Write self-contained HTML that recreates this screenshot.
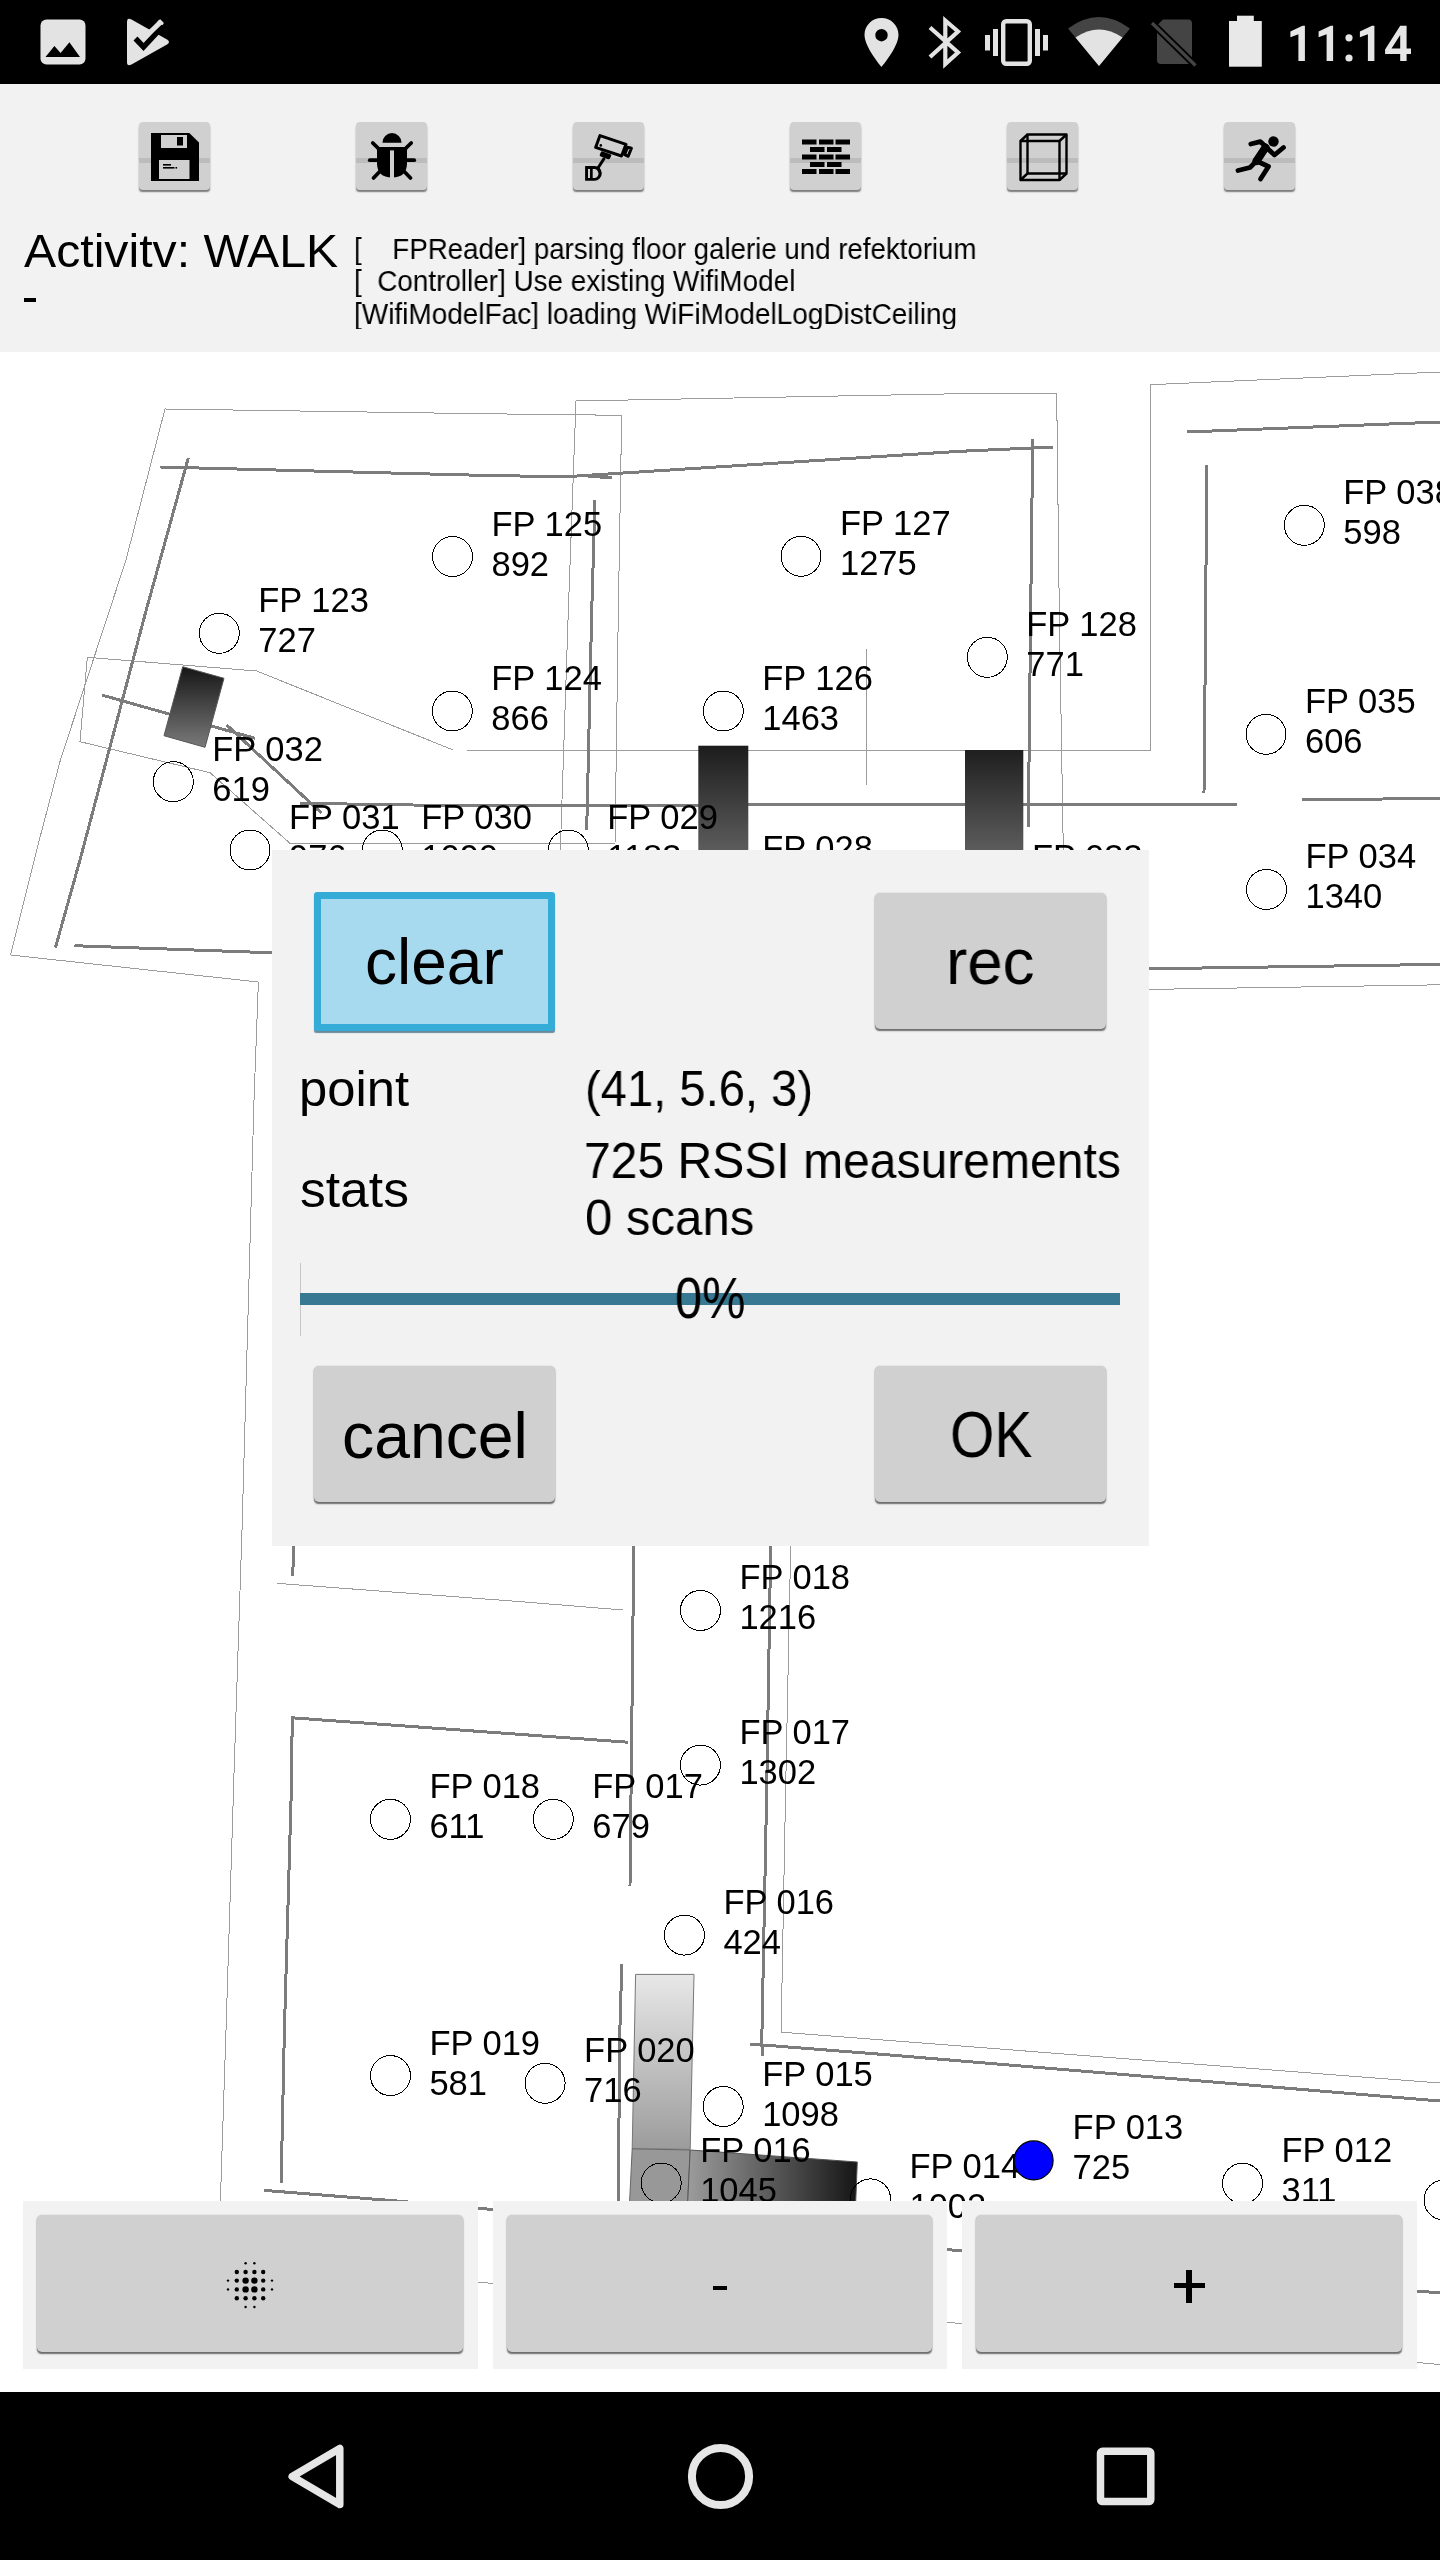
<!DOCTYPE html>
<html><head><meta charset="utf-8">
<style>
html,body{margin:0;padding:0;}
body{width:1440px;height:2560px;position:relative;overflow:hidden;background:#fff;font-family:"Liberation Sans",sans-serif;color:#000;}
.abs{position:absolute;}
#status{left:0;top:0;width:1440px;height:84px;background:#000;}
#top{left:0;top:84px;width:1440px;height:268px;background:#f2f2f2;}
.tb{position:absolute;top:122px;width:71px;height:67.5px;border-radius:4px;background:#d0d0d0;box-shadow:0 2.5px 1.5px -0.5px #7a7a7a;overflow:hidden;}
.tb .band{position:absolute;left:0;right:0;top:35.5px;height:5px;background:#bcbcbc;}
.tb svg{position:absolute;left:0;top:0;}
.t{position:absolute;white-space:pre;line-height:1;transform-origin:0 0;will-change:transform;}
#dlg{left:272px;top:850px;width:877px;height:696px;background:#f2f2f2;}
.btn{position:absolute;background:#d0d0d0;border-radius:5px;box-shadow:0 2px 1.5px -0.5px #6c6c6c, 0 0 1.5px rgba(0,0,0,0.22);}
#nav{left:0;top:2392px;width:1440px;height:168px;background:#000;}
.bbox{position:absolute;top:2201px;height:168px;background:#f2f2f2;}
</style></head><body>

<svg class="abs" style="left:0;top:0;will-change:transform" width="1440" height="2560">
<defs><linearGradient id="gd1" x1="0" y1="0" x2="0" y2="1"><stop offset="0" stop-color="#161616"/><stop offset="1" stop-color="#7a7a7a"/></linearGradient><linearGradient id="gd2" gradientUnits="userSpaceOnUse" x1="0" y1="745" x2="0" y2="900"><stop offset="0" stop-color="#1c1c1c"/><stop offset="1" stop-color="#7a7a7a"/></linearGradient><linearGradient id="gd4" gradientUnits="userSpaceOnUse" x1="0" y1="1974" x2="0" y2="2149"><stop offset="0" stop-color="#e8e8e8"/><stop offset="1" stop-color="#9c9c9c"/></linearGradient><linearGradient id="gd6" gradientUnits="userSpaceOnUse" x1="690" y1="0" x2="857" y2="0"><stop offset="0" stop-color="#9a9a9a"/><stop offset="1" stop-color="#161616"/></linearGradient></defs>
<polyline points="258.4,982.0 10.5,955.0 39.3,840.0 60.4,760.0 126.0,560.0 165.0,409.0 480.0,413.7 621.7,415.3 618.3,612.0 615.0,843.3 290.0,843.3 210.0,772.7 80.0,741.7 87.3,657.3 256.7,671.0 453.3,750.0 1150.0,750.7 1150.0,384.7 1440.0,372.0" fill="none" stroke="#9c9c9c" stroke-width="1" shape-rendering="crispEdges"/>
<polyline points="258.4,982.0 254.0,1100.0 242.0,1530.0 233.8,1780.0 226.0,2030.0 220.4,2201.0 219.0,2260.0 1440.0,2364.5" fill="none" stroke="#9c9c9c" stroke-width="1" shape-rendering="crispEdges"/>
<polyline points="560.0,860.0 568.3,612.0 576.0,401.0 960.0,393.7 1056.7,393.7 1059.3,612.0 1063.3,850.0" fill="none" stroke="#9c9c9c" stroke-width="1" shape-rendering="crispEdges"/>
<polyline points="866.0,649.3 866.0,785.0" fill="none" stroke="#9c9c9c" stroke-width="1" shape-rendering="crispEdges"/>
<polyline points="276.7,1583.3 520.0,1601.6 622.7,1610.0" fill="none" stroke="#9c9c9c" stroke-width="1" shape-rendering="crispEdges"/>
<polyline points="790.7,1546.0 785.6,1790.0 781.1,2032.2 840.0,2036.7 1440.0,2083.0" fill="none" stroke="#9c9c9c" stroke-width="1" shape-rendering="crispEdges"/>
<polyline points="1149.0,989.4 1440.0,984.8" fill="none" stroke="#9c9c9c" stroke-width="1" shape-rendering="crispEdges"/>
<polyline points="160.0,467.0 480.0,475.3 576.7,477.0" fill="none" stroke="#7c7c7c" stroke-width="3" shape-rendering="crispEdges"/>
<polyline points="576.7,476.0 960.0,451.3 1053.3,447.0" fill="none" stroke="#7c7c7c" stroke-width="3" shape-rendering="crispEdges"/>
<polyline points="580.0,475.3 611.7,478.0" fill="none" stroke="#7c7c7c" stroke-width="3" shape-rendering="crispEdges"/>
<polyline points="188.3,458.0 145.7,612.0 80.0,860.0 55.4,947.7" fill="none" stroke="#7c7c7c" stroke-width="3" shape-rendering="crispEdges"/>
<polyline points="74.5,945.7 271.9,952.8" fill="none" stroke="#7c7c7c" stroke-width="3" shape-rendering="crispEdges"/>
<polyline points="595.0,500.0 591.7,612.0 586.7,830.0" fill="none" stroke="#7c7c7c" stroke-width="3" shape-rendering="crispEdges"/>
<polyline points="101.7,695.0 255.0,738.3" fill="none" stroke="#7c7c7c" stroke-width="3" shape-rendering="crispEdges"/>
<polyline points="226.7,725.0 321.7,813.3" fill="none" stroke="#7c7c7c" stroke-width="3" shape-rendering="crispEdges"/>
<polyline points="300.0,803.3 480.0,806.0 960.0,804.0 1236.7,804.0" fill="none" stroke="#7c7c7c" stroke-width="3" shape-rendering="crispEdges"/>
<polyline points="1301.7,800.0 1440.0,798.3" fill="none" stroke="#7c7c7c" stroke-width="3" shape-rendering="crispEdges"/>
<polyline points="1032.7,438.7 1030.7,612.0 1028.3,826.7" fill="none" stroke="#7c7c7c" stroke-width="3" shape-rendering="crispEdges"/>
<polyline points="1186.7,432.0 1440.0,422.0" fill="none" stroke="#7c7c7c" stroke-width="3" shape-rendering="crispEdges"/>
<polyline points="1206.7,465.3 1205.7,612.0 1204.0,792.7" fill="none" stroke="#7c7c7c" stroke-width="3" shape-rendering="crispEdges"/>
<polyline points="1149.0,968.8 1440.0,964.4" fill="none" stroke="#7c7c7c" stroke-width="3" shape-rendering="crispEdges"/>
<polyline points="293.3,1546.0 292.9,1575.6" fill="none" stroke="#7c7c7c" stroke-width="3" shape-rendering="crispEdges"/>
<polyline points="627.8,1742.2 520.0,1734.4 292.2,1717.8 291.6,1780.0 284.4,2030.0 281.1,2183.3" fill="none" stroke="#7c7c7c" stroke-width="3" shape-rendering="crispEdges"/>
<polyline points="633.8,1546.0 630.0,1885.6" fill="none" stroke="#7c7c7c" stroke-width="3" shape-rendering="crispEdges"/>
<polyline points="770.7,1546.0 766.7,1790.0 761.8,2040.0 762.3,2056.0" fill="none" stroke="#7c7c7c" stroke-width="3" shape-rendering="crispEdges"/>
<polyline points="621.8,1964.4 619.6,2040.0 618.4,2201.0" fill="none" stroke="#7c7c7c" stroke-width="3" shape-rendering="crispEdges"/>
<polyline points="750.0,2044.0 880.0,2054.2 1440.0,2101.0" fill="none" stroke="#7c7c7c" stroke-width="3" shape-rendering="crispEdges"/>
<polyline points="264.4,2190.4 393.3,2200.7 1440.0,2293.0" fill="none" stroke="#7c7c7c" stroke-width="3" shape-rendering="crispEdges"/>
<polygon points="182.7,666.7 224,678.3 205,747.3 164,735.7" fill="url(#gd1)" stroke="#555" stroke-width="1"/>
<rect x="698.3" y="745.7" width="50" height="160" fill="url(#gd2)"/>
<rect x="965" y="750" width="58.3" height="160" fill="url(#gd2)"/>
<polygon points="635.6,1974.4 694,1974.4 690.2,2149.3 632.2,2148.8" fill="url(#gd4)" stroke="#777" stroke-width="1"/>
<polygon points="632.2,2148.8 690.2,2150 686.3,2230 628.2,2230" fill="#989898" stroke="#666" stroke-width="1"/>
<polygon points="690.2,2150 857.3,2162 854.6,2230 686.3,2230" fill="url(#gd6)" stroke="#555" stroke-width="1"/>
<circle cx="452.5" cy="556.5" r="20" fill="none" stroke="#000" stroke-width="1" shape-rendering="crispEdges"/>
<circle cx="801" cy="556.3" r="20" fill="none" stroke="#000" stroke-width="1" shape-rendering="crispEdges"/>
<circle cx="1304.3" cy="525.3" r="20" fill="none" stroke="#000" stroke-width="1" shape-rendering="crispEdges"/>
<circle cx="219.3" cy="633.3" r="20" fill="none" stroke="#000" stroke-width="1" shape-rendering="crispEdges"/>
<circle cx="987.3" cy="657.3" r="20" fill="none" stroke="#000" stroke-width="1" shape-rendering="crispEdges"/>
<circle cx="452.3" cy="711" r="20" fill="none" stroke="#000" stroke-width="1" shape-rendering="crispEdges"/>
<circle cx="723.3" cy="711" r="20" fill="none" stroke="#000" stroke-width="1" shape-rendering="crispEdges"/>
<circle cx="1266" cy="734.3" r="20" fill="none" stroke="#000" stroke-width="1" shape-rendering="crispEdges"/>
<circle cx="173.3" cy="781.7" r="20" fill="none" stroke="#000" stroke-width="1" shape-rendering="crispEdges"/>
<circle cx="250" cy="850" r="20" fill="none" stroke="#000" stroke-width="1" shape-rendering="crispEdges"/>
<circle cx="382.3" cy="850" r="20" fill="none" stroke="#000" stroke-width="1" shape-rendering="crispEdges"/>
<circle cx="568.3" cy="850" r="20" fill="none" stroke="#000" stroke-width="1" shape-rendering="crispEdges"/>
<circle cx="723.3" cy="881" r="20" fill="none" stroke="#000" stroke-width="1" shape-rendering="crispEdges"/>
<circle cx="993" cy="890" r="20" fill="none" stroke="#000" stroke-width="1" shape-rendering="crispEdges"/>
<circle cx="1266.5" cy="889.4" r="20" fill="none" stroke="#000" stroke-width="1" shape-rendering="crispEdges"/>
<circle cx="700.4" cy="1610.4" r="20" fill="none" stroke="#000" stroke-width="1" shape-rendering="crispEdges"/>
<circle cx="700.4" cy="1765.1" r="20" fill="none" stroke="#000" stroke-width="1" shape-rendering="crispEdges"/>
<circle cx="390.4" cy="1819.3" r="20" fill="none" stroke="#000" stroke-width="1" shape-rendering="crispEdges"/>
<circle cx="553.3" cy="1819.3" r="20" fill="none" stroke="#000" stroke-width="1" shape-rendering="crispEdges"/>
<circle cx="684.4" cy="1935.1" r="20" fill="none" stroke="#000" stroke-width="1" shape-rendering="crispEdges"/>
<circle cx="390.4" cy="2075.6" r="20" fill="none" stroke="#000" stroke-width="1" shape-rendering="crispEdges"/>
<circle cx="545.1" cy="2083.3" r="20" fill="none" stroke="#000" stroke-width="1" shape-rendering="crispEdges"/>
<circle cx="723.2" cy="2106.5" r="20" fill="none" stroke="#000" stroke-width="1" shape-rendering="crispEdges"/>
<circle cx="661.2" cy="2183" r="20" fill="none" stroke="#000" stroke-width="1" shape-rendering="crispEdges"/>
<circle cx="870.5" cy="2198.9" r="20" fill="none" stroke="#000" stroke-width="1" shape-rendering="crispEdges"/>
<circle cx="1242.5" cy="2183.3" r="20" fill="none" stroke="#000" stroke-width="1" shape-rendering="crispEdges"/>
<circle cx="1444" cy="2200" r="20" fill="none" stroke="#000" stroke-width="1" shape-rendering="crispEdges"/>
<g font-family="Liberation Sans" font-size="34.5" fill="#000"><text x="491.5" y="535.5">FP 125</text><text x="491.5" y="575.5">892</text><text x="840.0" y="535.3">FP 127</text><text x="840.0" y="575.3">1275</text><text x="1343.3" y="504.3">FP 038</text><text x="1343.3" y="544.3">598</text><text x="258.3" y="612.3">FP 123</text><text x="258.3" y="652.3">727</text><text x="1026.3" y="636.3">FP 128</text><text x="1026.3" y="676.3">771</text><text x="491.3" y="690.0">FP 124</text><text x="491.3" y="730.0">866</text><text x="762.3" y="690.0">FP 126</text><text x="762.3" y="730.0">1463</text><text x="1305.0" y="713.3">FP 035</text><text x="1305.0" y="753.3">606</text><text x="212.3" y="760.7">FP 032</text><text x="212.3" y="800.7">619</text><text x="289.0" y="829.0">FP 031</text><text x="289.0" y="869.0">976</text><text x="421.3" y="829.0">FP 030</text><text x="421.3" y="869.0">1090</text><text x="607.3" y="829.0">FP 029</text><text x="607.3" y="869.0">1183</text><text x="762.3" y="860.0">FP 028</text><text x="762.3" y="900.0">1320</text><text x="1032.0" y="869.0">FP 033</text><text x="1032.0" y="909.0">980</text><text x="1305.5" y="868.4">FP 034</text><text x="1305.5" y="908.4">1340</text><text x="739.4" y="1589.4">FP 018</text><text x="739.4" y="1629.4">1216</text><text x="739.4" y="1744.1">FP 017</text><text x="739.4" y="1784.1">1302</text><text x="429.4" y="1798.3">FP 018</text><text x="429.4" y="1838.3">611</text><text x="592.3" y="1798.3">FP 017</text><text x="592.3" y="1838.3">679</text><text x="723.4" y="1914.1">FP 016</text><text x="723.4" y="1954.1">424</text><text x="429.4" y="2054.6">FP 019</text><text x="429.4" y="2094.6">581</text><text x="584.1" y="2062.3">FP 020</text><text x="584.1" y="2102.3">716</text><text x="762.2" y="2085.5">FP 015</text><text x="762.2" y="2125.5">1098</text><text x="700.2" y="2162.0">FP 016</text><text x="700.2" y="2202.0">1045</text><text x="909.5" y="2177.9">FP 014</text><text x="909.5" y="2217.9">1002</text><text x="1281.5" y="2162.3">FP 012</text><text x="1281.5" y="2202.3">311</text><text x="1072.6" y="2139.4">FP 013</text><text x="1072.6" y="2179.4">725</text></g>
<circle cx="1033.6" cy="2160.4" r="19.5" fill="#0000ff" stroke="#000" stroke-width="1.2"/>
</svg>

<!-- status bar -->
<div id="status" class="abs">
<svg class="abs" style="left:0;top:0" width="1440" height="84">
 <!-- gallery icon -->
 <rect x="40.5" y="19.5" width="45" height="45" rx="6" fill="#e3e3e3"/>
 <polygon points="45.5,57 54.4,46 60.6,53 69.4,42.2 80,57" fill="#000"/>
 <!-- play store check -->
 <path d="M127,22 Q127,17 131.5,19.5 L167,39.5 Q171,42 167,44.5 L131.5,64.5 Q127,67 127,62 Z" fill="#e3e3e3"/>
 <polyline points="144,42 161.5,21.5" fill="none" stroke="#e3e3e3" stroke-width="6"/>
 <polyline points="135.5,38.5 143.5,47 163,26" fill="none" stroke="#000" stroke-width="5.5"/>
 <polyline points="146,36 162,21" fill="none" stroke="#e3e3e3" stroke-width="5"/>
 <!-- location -->
 <path d="M881.5,18 C872,18 864.5,25.5 864.5,35 C864.5,47 881.5,67 881.5,67 C881.5,67 898.5,47 898.5,35 C898.5,25.5 891,18 881.5,18 Z M881.5,29 A6.2,6.2 0 1 0 881.5,41.4 A6.2,6.2 0 1 0 881.5,29 Z" fill="#e3e3e3" fill-rule="evenodd"/>
 <!-- bluetooth -->
 <polyline points="930,27.5 958,52.5 945.3,64 945.3,20.5 958,31.5 930,57" fill="none" stroke="#e3e3e3" stroke-width="4.2" stroke-linejoin="miter" stroke-miterlimit="3"/>
 <!-- vibrate -->
 <rect x="1003.2" y="21.2" width="26.6" height="42.6" rx="3" fill="none" stroke="#e3e3e3" stroke-width="4.4"/>
 <rect x="985" y="35" width="5" height="15.5" fill="#e3e3e3"/>
 <rect x="993" y="29" width="5" height="27" fill="#e3e3e3"/>
 <rect x="1035" y="29" width="5" height="27" fill="#e3e3e3"/>
 <rect x="1043" y="35" width="5" height="15.5" fill="#e3e3e3"/>
 <!-- wifi -->
 <path d="M1068,28.5 Q1099,5.5 1130,28.5 L1099,66 Z" fill="#444"/>
 <path d="M1075.5,37.5 Q1099,21.5 1122.5,37.5 L1099,66 Z" fill="#e3e3e3"/>
 <!-- no sim -->
 <path d="M1163,19.4 L1188,19.4 Q1192,19.4 1192,23.4 L1192,60 Q1192,64 1188,64 L1161,64 Q1157,64 1157,60 L1157,25.4 Z" fill="#444"/>
 <line x1="1152" y1="23" x2="1195.5" y2="65.5" stroke="#000" stroke-width="7"/>
 <line x1="1152" y1="23" x2="1195.5" y2="65.5" stroke="#444" stroke-width="3.2"/>
 <!-- battery -->
 <rect x="1237" y="15.7" width="16.8" height="6" fill="#e8e8e8"/>
 <rect x="1229" y="21" width="32.8" height="45.7" fill="#e8e8e8"/>
</svg>
<svg class="abs" style="left:0;top:0" width="1440" height="84"><g fill="#e6e6e6">
 <polygon points="1290.4,31.4 1302.5,25.8 1304.9,25.8 1304.9,61 1298.4,61 1298.4,34.2 1290.4,37.3"/>
 <polygon points="1318.6,31.4 1330.7,25.8 1333.1,25.8 1333.1,61 1326.6,61 1326.6,34.2 1318.6,37.3"/>
 <circle cx="1349" cy="37.8" r="3.6"/><circle cx="1349" cy="58" r="3.6"/>
 <polygon points="1359.9,31.4 1372,25.8 1374.4,25.8 1374.4,61 1367.9,61 1367.9,34.2 1359.9,37.3"/>
 <path d="M1400.2,25.8 L1406.6,25.8 L1406.6,48.6 L1411,48.6 L1411,53.9 L1406.6,53.9 L1406.6,61 L1400.2,61 L1400.2,53.9 L1385.1,53.9 L1385.1,49.5 Z M1400.2,35 L1391.5,48.6 L1400.2,48.6 Z" fill-rule="evenodd"/>
</g></svg>
</div>

<!-- top panel -->
<div id="top" class="abs"></div>
<div class="tb" style="left:139px"><div class="band"></div>
 <svg width="71" height="70">
  <path d="M12,11 L58,11 L60,13 L60,59 L12,59 Z" fill="#000"/>
  <path d="M50.3,11 L60,20.5 L60,11 Z" fill="#d0d0d0"/>
  <rect x="22" y="13" width="26" height="13" fill="#d0d0d0"/>
  <rect x="38" y="15" width="6" height="8.5" fill="#000"/>
  <rect x="20" y="38" width="30.5" height="19" fill="#d0d0d0"/>
  <rect x="24" y="42" width="8" height="1.6" fill="#000"/>
  <rect x="24" y="45" width="11.5" height="1.6" fill="#000"/>
  <rect x="36.5" y="45" width="1.6" height="1.6" fill="#000"/>
 </svg></div>
<div class="tb" style="left:356px"><div class="band"></div>
 <svg width="71" height="70">
  <path d="M26.4,20.7 A9.6,9.6 0 0 1 45.6,20.7 Z" fill="#000"/>
  <path d="M23.2,25 L48.8,25 L51,27.6 L51,41 Q51,55.5 36,55.5 Q21,55.5 21,41 L21,27.6 Z" fill="#000"/>
  <rect x="34" y="28.4" width="4" height="28" fill="#d0d0d0"/>
  <g stroke="#000" stroke-width="3.8" stroke-linecap="round">
   <line x1="16.8" y1="21" x2="23" y2="27"/><line x1="55.2" y1="21" x2="49" y2="27"/>
   <line x1="13.8" y1="38.2" x2="21" y2="38.2"/><line x1="58.2" y1="38.2" x2="51" y2="38.2"/>
   <line x1="17.5" y1="56" x2="24" y2="49.3"/><line x1="54.5" y1="56" x2="48" y2="49.3"/>
  </g>
 </svg></div>
<div class="tb" style="left:573px"><div class="band"></div>
 <svg width="71" height="70">
  <g fill="none" stroke="#000" stroke-width="3" stroke-linejoin="round">
   <polygon points="27,13.6 53,22.4 48.5,34 22.6,25.4"/>
   <polygon points="54.5,25.2 58.4,26.3 55.2,34.3 51.6,32.6"/>
   <polygon points="29.2,30.8 36.8,33.6 35.6,35.8 28.2,33"/>
   <line x1="31.4" y1="36" x2="25" y2="46"/>
  </g>
  <path d="M12.1,43.9 L21.5,43.9 A7.3,7.4 0 0 1 21.5,58.7 L12.1,58.7 Z M15,47.1 L17,47.1 L17,56 L15,56 Z M19.7,47.1 L21.3,47.1 A4.2,4.45 0 0 1 21.3,56 L19.7,56 Z" fill="#000" fill-rule="evenodd"/>
  <circle cx="27.8" cy="23.4" r="1.3" fill="#000"/>
 </svg></div>
<div class="tb" style="left:790px"><div class="band"></div>
 <svg width="71" height="70">
  <g fill="#000">
   <rect x="12" y="17.5" width="14.5" height="5"/><rect x="29" y="17.5" width="14.5" height="5"/><rect x="45.5" y="17.5" width="14.5" height="5"/>
   <rect x="20" y="25" width="14.5" height="5"/><rect x="37" y="25" width="14.5" height="5"/>
   <rect x="12" y="32.5" width="14.5" height="5"/><rect x="29" y="32.5" width="14.5" height="5"/><rect x="45.5" y="32.5" width="14.5" height="5"/>
   <rect x="20" y="40" width="14.5" height="5"/><rect x="37" y="40" width="14.5" height="5"/>
   <rect x="12" y="47" width="14.5" height="5"/><rect x="29" y="47" width="14.5" height="5"/><rect x="45.5" y="47" width="14.5" height="5"/>
  </g>
 </svg></div>
<div class="tb" style="left:1007px"><div class="band"></div>
 <svg width="71" height="70">
  <g fill="none" stroke="#000" stroke-width="2.4" stroke-linejoin="round">
   <rect x="13.5" y="19" width="39" height="39"/>
   <rect x="20.5" y="12.5" width="39" height="39"/>
   <line x1="13.5" y1="19" x2="20.5" y2="12.5"/><line x1="52.5" y1="19" x2="59.5" y2="12.5"/>
   <line x1="13.5" y1="58" x2="20.5" y2="51.5"/><line x1="52.5" y1="58" x2="59.5" y2="51.5"/>
  </g>
 </svg></div>
<div class="tb" style="left:1224px"><div class="band"></div>
 <svg width="71" height="70">
  <circle cx="49.5" cy="19.5" r="5.2" fill="#000"/>
  <g fill="none" stroke="#000" stroke-linecap="round" stroke-linejoin="round">
   <polyline points="26.8,22 36.3,19.6 43,26 50.5,33 59.5,25.5" stroke-width="4.8"/>
   <polyline points="41.5,25.5 32.5,39" stroke-width="8"/>
   <polyline points="32.5,39 26,45.5 14,48.5" stroke-width="4.8"/>
   <polyline points="32.5,39 44.5,44.5 36.5,57" stroke-width="4.8"/>
  </g>
 </svg></div>

<div class="t" id="act" style="left:23.75px;top:228px;font-size:46.4px;transform:scaleX(1.0389);">Activitv: WALK</div>
<div class="abs" style="left:24px;top:298px;width:12px;height:4px;background:#000;"></div>
<div class="abs" style="left:0;top:0;width:1440px;height:329px;overflow:hidden;">
 <div class="t" id="log1" style="left:353.93px;top:234.2px;font-size:29.6px;transform:scaleX(0.9344);">[    FPReader] parsing floor galerie und refektorium</div>
 <div class="t" id="log2" style="left:353.92px;top:266.25px;font-size:29.6px;transform:scaleX(0.9415);">[  Controller] Use existing WifiModel</div>
 <div class="t" id="log3" style="left:353.91px;top:298.75px;font-size:29.6px;transform:scaleX(0.945);">[WifiModelFac] loading WiFiModelLogDistCeiling</div>
</div>

<!-- dialog -->
<div id="dlg" class="abs"></div>
<div class="abs" style="left:314px;top:892px;width:227px;height:125px;background:#a8daef;border:7px solid #35acd8;border-radius:3px;box-shadow:0 2px 1px -0.5px #6a8a99;"></div>
<div class="t" id="clear" style="left:365.01px;top:930.4px;font-size:64px;transform:scaleX(0.9978);">clear</div>
<div class="btn" style="left:875px;top:893px;width:231px;height:136px;"></div>
<div class="t" id="rec" style="left:946.05px;top:929.75px;font-size:64.5px;transform:scaleX(0.9881);">rec</div>
<div class="t" id="point" style="left:299.39px;top:1064.1px;font-size:50.5px;transform:scaleX(1.0047);">point</div>
<div class="t" id="pval" style="left:585.1px;top:1064.3px;font-size:50.5px;transform:scaleX(0.9336);">(41, 5.6, 3)</div>
<div class="t" id="stats" style="left:299.96px;top:1165.2px;font-size:50.5px;transform:scaleX(1.0214);">stats</div>
<div class="t" id="sval1" style="left:584.05px;top:1136.4px;font-size:50.5px;transform:scaleX(0.9515);">725 RSSI measurements</div>
<div class="t" id="sval2" style="left:585.05px;top:1192.7px;font-size:50.5px;transform:scaleX(0.9729);">0 scans</div>
<div class="abs" style="left:300px;top:1263px;width:1px;height:73px;background:#c8c8c8;"></div>
<div class="abs" style="left:300px;top:1293px;width:820px;height:12px;background:#397893;"></div>
<div class="t" id="pct" style="left:675.32px;top:1269px;font-size:58px;transform:scaleX(0.84);">0%</div>
<div class="btn" style="left:314px;top:1366px;width:241px;height:136px;"></div>
<div class="t" id="cancel" style="left:341.79px;top:1403.7px;font-size:64px;transform:scaleX(1.0045);">cancel</div>
<div class="btn" style="left:875px;top:1366px;width:231px;height:136px;"></div>
<div class="t" id="ok" style="left:950.29px;top:1402.1px;font-size:65.5px;transform:scaleX(0.8692);">OK</div>

<!-- bottom buttons -->
<div class="bbox" style="left:23px;width:455px;"></div>
<div class="bbox" style="left:493px;width:454px;"></div>
<div class="bbox" style="left:962px;width:455px;"></div>
<div class="btn" style="left:37px;top:2215px;width:426px;height:137px;"></div>
<div class="btn" style="left:507px;top:2215px;width:425px;height:137px;"></div>
<div class="btn" style="left:976px;top:2215px;width:426px;height:137px;"></div>
<svg class="abs" style="left:200px;top:2235px" width="100" height="100">
 <g fill="#000">
  <circle cx="45.6" cy="28.2" r="1.2"/><circle cx="54.4" cy="28.2" r="1.2"/>
  <circle cx="36.8" cy="37" r="2.2"/><circle cx="45.6" cy="37" r="2.2"/><circle cx="54.4" cy="37" r="2.2"/><circle cx="63.2" cy="37" r="2.2"/>
  <circle cx="28" cy="45.6" r="1.2"/><circle cx="36.8" cy="45.6" r="2.2"/><circle cx="45.6" cy="45.6" r="3.2"/><circle cx="54.4" cy="45.6" r="3.2"/><circle cx="63.2" cy="45.6" r="2.2"/><circle cx="72" cy="45.6" r="1.2"/>
  <circle cx="28" cy="54.4" r="1.2"/><circle cx="36.8" cy="54.4" r="2.2"/><circle cx="45.6" cy="54.4" r="3.2"/><circle cx="54.4" cy="54.4" r="3.2"/><circle cx="63.2" cy="54.4" r="2.2"/><circle cx="72" cy="54.4" r="1.2"/>
  <circle cx="36.8" cy="63.2" r="2.2"/><circle cx="45.6" cy="63.2" r="2.2"/><circle cx="54.4" cy="63.2" r="2.2"/><circle cx="63.2" cy="63.2" r="2.2"/>
  <circle cx="45.6" cy="72" r="1.2"/><circle cx="54.4" cy="72" r="1.2"/>
 </g>
</svg>
<div class="abs" style="left:712.5px;top:2285.6px;width:14.8px;height:4.5px;background:#000;"></div>
<div class="abs" style="left:1174px;top:2283px;width:30.7px;height:5px;background:#000;"></div>
<div class="abs" style="left:1186.4px;top:2270px;width:5.5px;height:32.5px;background:#000;"></div>

<!-- nav bar -->
<div id="nav" class="abs">
<svg class="abs" style="left:0;top:0" width="1440" height="168">
 <g fill="none" stroke="#e6e6e6" stroke-width="7.5" stroke-linejoin="round">
  <polygon points="292.2,84.4 339.8,56.5 339.8,112.4"/>
  <circle cx="720.5" cy="84.5" r="28.6" stroke-width="8"/>
  <rect x="1100.5" y="59.3" width="50.3" height="50.3" rx="2"/>
 </g>
</svg>
</div>

</body></html>
